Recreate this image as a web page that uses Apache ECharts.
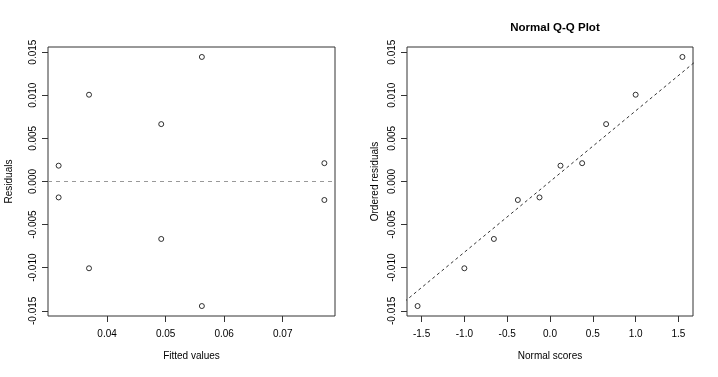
<!DOCTYPE html>
<html>
<head>
<meta charset="utf-8">
<script src="https://cdn.jsdelivr.net/npm/echarts@6/dist/echarts.min.js"></script>
<style>
  html, body { margin: 0; padding: 0; background: #fff; }
  #chart { width: 718px; height: 377px; }
</style>
</head>
<body>
<div id="chart"></div>
<script>
// residuals vs fitted values (10 observations)
var fitted = [0.03173, 0.03173, 0.03692, 0.03692, 0.04925, 0.04925, 0.05619, 0.05619, 0.07711, 0.07711];
var residuals = [0.00183, -0.00185, 0.01006, -0.01007, 0.00665, -0.00667, 0.01444, -0.01445, 0.00212, -0.00215];

// tick positions
var residualTicks = [-0.015, -0.010, -0.005, 0.000, 0.005, 0.010, 0.015];
var fittedTicks = [0.04, 0.05, 0.06, 0.07];
var scoreTicks = [-1.5, -1.0, -0.5, 0.0, 0.5, 1.0, 1.5];

var FONT = "Liberation Sans, Arial, Helvetica, sans-serif";

// R-style range: data extent padded by 4% on each side
function rRange(vals) {
  var lo = Math.min.apply(null, vals), hi = Math.max.apply(null, vals);
  var pad = (hi - lo) * 0.04;
  return [lo - pad, hi + pad];
}

// inverse normal cdf (Acklam)
function qnorm(p) {
  var a = [-39.69683028665376, 220.9460984245205, -275.9285104469687, 138.3577518672690, -30.66479806614716, 2.506628277459239];
  var b = [-54.47609879822406, 161.5858368580409, -155.6989798598866, 66.80131188771972, -13.28068155288572];
  var c = [-0.007784894002430293, -0.3223964580411365, -2.400758277161838, -2.549732539343734, 4.374664141464968, 2.938163982698783];
  var d = [0.007784695709041462, 0.3224671290700398, 2.445134137142996, 3.754408661907416];
  var q, r;
  if (p < 0.02425) {
    q = Math.sqrt(-2 * Math.log(p));
    return (((((c[0]*q+c[1])*q+c[2])*q+c[3])*q+c[4])*q+c[5]) / ((((d[0]*q+d[1])*q+d[2])*q+d[3])*q+1);
  } else if (p > 1 - 0.02425) {
    q = Math.sqrt(-2 * Math.log(1 - p));
    return -(((((c[0]*q+c[1])*q+c[2])*q+c[3])*q+c[4])*q+c[5]) / ((((d[0]*q+d[1])*q+d[2])*q+d[3])*q+1);
  }
  q = p - 0.5; r = q * q;
  return (((((a[0]*r+a[1])*r+a[2])*r+a[3])*r+a[4])*r+a[5])*q / (((((b[0]*r+b[1])*r+b[2])*r+b[3])*r+b[4])*r+1);
}

function quantile7(sorted, p) {
  var h = (sorted.length - 1) * p, i = Math.floor(h);
  return sorted[i] + (h - i) * (sorted[Math.min(i + 1, sorted.length - 1)] - sorted[i]);
}

var n = residuals.length;
var ordered = residuals.slice().sort(function (a, b) { return a - b; });
var scores = ordered.map(function (v, i) { return qnorm((i + 1 - 0.375) / (n + 0.25)); });

// qqline through the quartiles
var y1 = quantile7(ordered, 0.25), y2 = quantile7(ordered, 0.75);
var x1 = qnorm(0.25), x2 = qnorm(0.75);
var slope = (y2 - y1) / (x2 - x1), icpt = y1 - slope * x1;

var yRange = rRange(residuals);
var fRange = rRange(fitted);
var sRange = rRange(scores);
var qqLine = [[sRange[0] - 1, icpt + slope * (sRange[0] - 1)], [sRange[1] + 1, icpt + slope * (sRange[1] + 1)]];

var tickStyle = { show: true, inside: false, length: 6, lineStyle: { color: "#333", width: 1 } };
var labelFont = { fontFamily: FONT, fontSize: 10, color: "#000" };

function yAxis(idx, name, gap) {
  return {
    type: "value", gridIndex: idx,
    min: yRange[0], max: yRange[1],
    name: name, nameLocation: "middle", nameGap: gap,
    nameTextStyle: labelFont,
    axisLine: { show: false, onZero: false },
    axisTick: Object.assign({ customValues: residualTicks }, tickStyle),
    axisLabel: Object.assign({
      customValues: residualTicks, rotate: 90, margin: 10,
      formatter: function (v) { return v.toFixed(3); }
    }, labelFont),
    splitLine: { show: false }
  };
}

function xAxis(idx, name, range, ticks, digits) {
  return {
    type: "value", gridIndex: idx,
    min: range[0], max: range[1],
    name: name, nameLocation: "middle", nameGap: 35,
    nameTextStyle: labelFont,
    axisLine: { show: false, onZero: false },
    axisTick: Object.assign({ customValues: ticks }, tickStyle),
    axisLabel: Object.assign({
      customValues: ticks, margin: 13,
      formatter: function (v) { return v.toFixed(digits); }
    }, labelFont),
    splitLine: { show: false }
  };
}

var pointStyle = {
  type: "scatter", symbol: "circle", symbolSize: 5,
  itemStyle: { color: "transparent", borderColor: "#000", borderWidth: 1 },
  silent: true
};

var myChart = echarts.init(document.getElementById("chart"), null, { renderer: "canvas" });
myChart.setOption({
  animation: false,
  backgroundColor: "#fff",
  title: {
    text: "Normal Q-Q Plot",
    left: 550, top: 17, textAlign: "center",
    textStyle: { fontFamily: FONT, fontSize: 11.5, fontWeight: "bold", color: "#000" }
  },
  grid: [
    { left: 48, right: 383, top: 47, bottom: 61, show: true, borderColor: "#333", borderWidth: 1, backgroundColor: "transparent" },
    { left: 407, right: 25, top: 47, bottom: 61, show: true, borderColor: "#333", borderWidth: 1, backgroundColor: "transparent" }
  ],
  xAxis: [
    xAxis(0, "Fitted values", fRange, fittedTicks, 2),
    xAxis(1, "Normal scores", sRange, scoreTicks, 1)
  ],
  yAxis: [
    yAxis(0, "Residuals", 34),
    yAxis(1, "Ordered residuals", 27)
  ],
  series: [
    Object.assign({
      xAxisIndex: 0, yAxisIndex: 0,
      data: fitted.map(function (f, i) { return [f, residuals[i]]; }),
      markLine: {
        silent: true, symbol: ["none", "none"], label: { show: false },
        lineStyle: { color: "#999", type: [4, 4], width: 1 },
        data: [{ yAxis: 0 }]
      }
    }, pointStyle),
    Object.assign({
      xAxisIndex: 1, yAxisIndex: 1,
      data: scores.map(function (s, i) { return [s, ordered[i]]; })
    }, pointStyle),
    {
      type: "line", xAxisIndex: 1, yAxisIndex: 1,
      data: qqLine, showSymbol: false, clip: true, silent: true,
      lineStyle: { color: "#333", type: [3, 3], width: 1 }
    }
  ]
});
</script>
</body>
</html>
